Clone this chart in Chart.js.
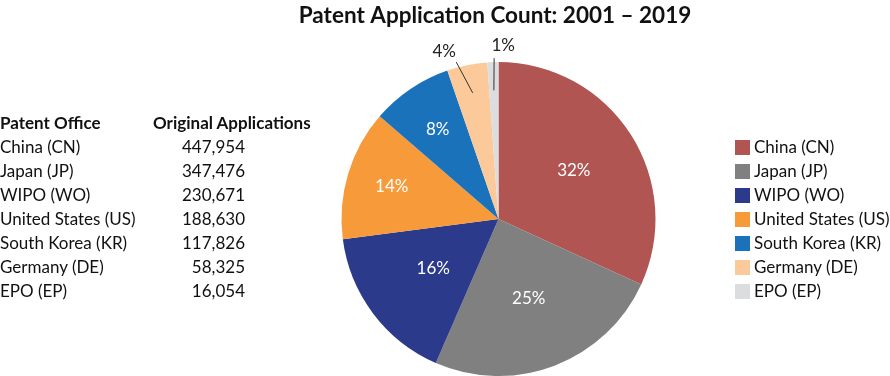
<!DOCTYPE html>
<html><head><meta charset="utf-8">
<script src="https://cdn.jsdelivr.net/npm/chart.js@4/dist/chart.umd.min.js"></script>
<style>
html,body{margin:0;padding:0;background:#fff;}
body{width:890px;height:376px;position:relative;overflow:hidden;font-family:Lato, sans-serif;color:#111;}
#wrap{position:absolute;left:0;top:0;width:890px;height:376px;}
#tbl,#leg{position:absolute;left:0;top:0;width:890px;height:376px;font-size:17px;}
.cell{position:absolute;white-space:nowrap;height:24px;line-height:24px;}
.hdr{font-weight:700;}
.box{position:absolute;width:15px;height:15px;}
</style>
</head><body>
<div id="wrap"><canvas id="c" width="890" height="376"></canvas></div>
<div id="tbl"></div>
<div id="leg"></div>
<script>
const offices = ["China (CN)", "Japan (JP)", "WIPO (WO)", "United States (US)", "South Korea (KR)", "Germany (DE)", "EPO (EP)"];
const applications = [447954, 347476, 230671, 188630, 117826, 58325, 16054];
const shareLabels = ["32%", "25%", "16%", "14%", "8%", "4%", "1%"];
const tableHeaders = ["Patent Office", "Original Applications"];
const titleText = "Patent Application Count: 2001 \u2013 2019";
const sliceColors = ["#b05552", "#808080", "#2b3a8a", "#f79a3a", "#1a72ba", "#fcc99a", "#dcdddf"];

// table
const tbl = document.getElementById('tbl');
const rowTop = 111, rowH = 24;
function addCell(parent, text, style, cls) {
  const d = document.createElement('div');
  d.className = 'cell' + (cls ? ' ' + cls : '');
  d.textContent = text;
  Object.assign(d.style, style);
  parent.appendChild(d);
  return d;
}
addCell(tbl, tableHeaders[0], {left: '0px', top: rowTop + 'px'}, 'hdr');
addCell(tbl, tableHeaders[1], {left: '153px', top: rowTop + 'px'}, 'hdr');
offices.forEach((o, i) => {
  const t = rowTop + (i + 1) * rowH;
  addCell(tbl, o, {left: '0px', top: t + 'px'});
  addCell(tbl, applications[i].toLocaleString('en-US'), {right: (890 - 245) + 'px', top: t + 'px', textAlign: 'right'});
});

// legend (HTML)
const leg = document.getElementById('leg');
const legTop = 135, legH = 24;
offices.forEach((o, i) => {
  const t = legTop + i * legH;
  const b = document.createElement('div');
  b.className = 'box';
  b.style.left = '735px';
  b.style.top = (t + 4.5) + 'px';
  b.style.background = sliceColors[i];
  leg.appendChild(b);
  addCell(leg, o, {left: '754px', top: t + 'px'});
});

const labelCfg = {
  inside: {0: 0.57, 1: 0.54, 2: 0.52, 3: 0.71, 4: 0.69},
  outside: {
    5: {inR: 0.82, outR: 1.035, shift: -3.5, dx: -12, dy: -11},
    6: {inR: 0.82, outR: 1.025, shift: 0.5, dx: 9, dy: -13}
  }
};

const pctPlugin = {
  id: 'pctLabels',
  afterDatasetsDraw(chart) {
    const ctx = chart.ctx;
    const meta = chart.getDatasetMeta(0);
    ctx.save();
    ctx.font = '17px Lato, sans-serif';
    ctx.textAlign = 'center';
    ctx.textBaseline = 'middle';
    meta.data.forEach((arc, i) => {
      const p = arc.getProps(['x', 'y', 'startAngle', 'endAngle', 'outerRadius'], true);
      const mid = (p.startAngle + p.endAngle) / 2;
      if (labelCfg.inside[i] !== undefined) {
        const r = p.outerRadius * labelCfg.inside[i];
        ctx.fillStyle = '#ffffff';
        ctx.fillText(shareLabels[i], p.x + Math.cos(mid) * r, p.y + Math.sin(mid) * r);
      } else if (labelCfg.outside[i]) {
        const o = labelCfg.outside[i];
        const a2 = mid + o.shift * Math.PI / 180;
        const x1 = p.x + Math.cos(mid) * p.outerRadius * o.inR;
        const y1 = p.y + Math.sin(mid) * p.outerRadius * o.inR;
        const x2 = p.x + Math.cos(a2) * p.outerRadius * o.outR;
        const y2 = p.y + Math.sin(a2) * p.outerRadius * o.outR;
        ctx.strokeStyle = '#333333';
        ctx.lineWidth = 1;
        ctx.beginPath(); ctx.moveTo(x1, y1); ctx.lineTo(x2, y2); ctx.stroke();
        ctx.fillStyle = '#222222';
        ctx.fillText(shareLabels[i], x2 + o.dx, y2 + o.dy);
      }
    });
    // title
    ctx.font = '700 22.5px Lato, sans-serif';
    ctx.fillStyle = '#111111';
    ctx.textBaseline = 'alphabetic';
    ctx.fillText(titleText, 495, 23);
    ctx.restore();
  }
};

new Chart(document.getElementById('c'), {
  type: 'pie',
  data: {
    labels: offices,
    datasets: [{
      data: applications,
      backgroundColor: sliceColors,
      borderWidth: 0
    }]
  },
  options: {
    responsive: false,
    animation: false,
    layout: {padding: {left: 300, right: 193, top: 62, bottom: -1}},
    plugins: {
      title: {display: false},
      legend: {display: false},
      tooltip: {enabled: false}
    }
  },
  plugins: [pctPlugin]
});
</script>
</body></html>
